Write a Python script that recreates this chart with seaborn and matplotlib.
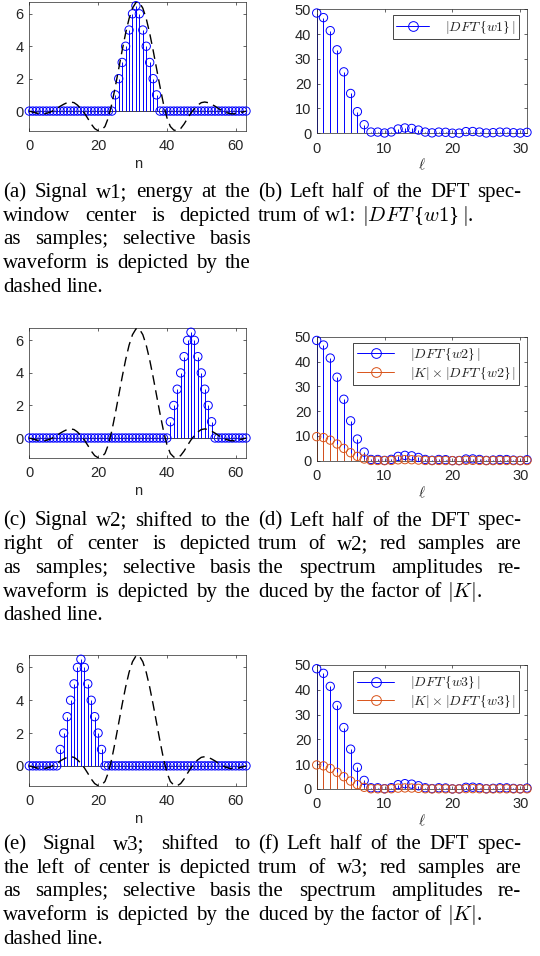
import numpy as np
import matplotlib
matplotlib.use("Agg")
import matplotlib.pyplot as plt
from matplotlib.lines import Line2D
from matplotlib.legend_handler import HandlerLine2D
import seaborn as sns

sns.set_style("ticks")
plt.rcParams["font.family"] = ["Liberation Serif", "DejaVu Serif"]
plt.rcParams["mathtext.fontset"] = "cm"

BLUE = "#0000FF"
RED = "#D95319"
DARK = "#262626"
SANS = ["Liberation Sans", "DejaVu Sans"]

# ---------------- data ----------------
n = list(range(64))
pulse = [1, 2, 3, 4, 5, 6, 6.5, 6, 5, 4, 3, 2, 1]
w1 = [0] * 25 + pulse + [0] * 26
w2 = [0] * 41 + pulse + [0] * 10
w3 = [0] * 9 + pulse + [0] * 42

# dashed selective basis waveform
basis_n = list(range(32)) + [31.5] + list(range(32, 64))
basis_v = [0.00, -0.06, -0.12, -0.16, -0.17, -0.14, -0.07, 0.03, 0.16, 0.30,
           0.42, 0.52, 0.56, 0.52, 0.37, 0.15, -0.12, -0.45, -0.80, -1.08,
           -1.21, -1.17, -0.95, -0.40, 0.45, 1.50, 2.62, 3.75, 4.80, 5.70,
           6.35, 6.70,
           6.75,
           6.70, 6.35, 5.70, 4.80, 3.75, 2.62, 1.50, 0.45, -0.40, -0.95,
           -1.17, -1.21, -1.08, -0.80, -0.45, -0.12, 0.15, 0.37, 0.52, 0.56,
           0.52, 0.42, 0.30, 0.16, 0.03, -0.07, -0.14, -0.17, -0.16, -0.12,
           -0.06, 0.00]

ell = list(range(32))
dft_mag = [48.5, 46.64, 41.39, 33.67, 24.78, 16.07, 8.73, 3.47, 0.5, 0.49,
           0.12, 0.54, 1.74, 2.15, 1.96, 1.31, 0.5, 0.17, 0.49, 0.41,
           0.05, 0.08, 0.68, 0.72, 0.5, 0.12, 0.26, 0.48, 0.46, 0.23,
           0.10, 0.39]
dft_red = [9.7, 9.33, 8.28, 6.73, 4.96, 3.21, 1.75, 0.69, 0.1, 0.1,
           0.02, 0.11, 0.35, 0.43, 0.39, 0.26, 0.1, 0.03, 0.1, 0.08,
           0.01, 0.02, 0.14, 0.14, 0.1, 0.02, 0.05, 0.1, 0.09, 0.05,
           0.02, 0.08]

W, H = 540, 956
fig = plt.figure(figsize=(W / 100, H / 100), dpi=100)


def px_axes(x0, y0, x1, y1):
    return fig.add_axes([x0 / W, 1 - y1 / H, (x1 - x0) / W, (y1 - y0) / H])


def dft_label(tag):
    # upright text braces between italic math parts, as LaTeX prints \{ \}
    return r"$|DFT\,${$" + tag + r"$}$\,|$"


def style(ax):
    for s in ax.spines.values():
        s.set_linewidth(0.5)
        s.set_color(DARK)
    ax.tick_params(direction="in", top=True, right=True, length=2.5,
                   width=0.5, colors=DARK, labelsize=10.5)
    ax.tick_params(axis="x", pad=6)
    ax.tick_params(axis="y", pad=4)
    for lab in ax.get_xticklabels() + ax.get_yticklabels():
        lab.set_family(SANS)


def stems(ax, x, y, color):
    ax.vlines(x, 0, y, color=color, lw=0.7, zorder=2)
    sns.scatterplot(x=x, y=y, ax=ax, s=36, marker="o", zorder=3,
                    clip_on=False)
    coll = ax.collections[-1]
    coll.set_facecolor("none")
    coll.set_edgecolor(color)
    coll.set_linewidth(0.7)


class StemHandler(HandlerLine2D):
    def get_xdata(self, legend, xdescent, ydescent, width, height, fontsize):
        xd = np.array([-xdescent, -xdescent + width])
        return xd, np.array([-xdescent + width])


def signal_panel(ax, w):
    ax.axhline(0, color=DARK, lw=0.6, zorder=1)
    stems(ax, n, w, BLUE)
    sns.lineplot(x=basis_n, y=basis_v, ax=ax, color="k", lw=1.0,
                 linestyle=(0, (7, 4)), estimator=None, zorder=4)
    ax.set_xlim(0, 63)
    ax.set_ylim(-1.21, 6.76)
    ax.set_xticks([0, 20, 40, 60])
    ax.set_yticks([0, 2, 4, 6])
    ax.set_xlabel("n", fontsize=10.5, color=DARK, labelpad=3, family=SANS)
    ax.set_ylabel("")
    style(ax)


def dft_panel(ax, tag, red=False):
    ax.axhline(0, color=DARK, lw=0.6, zorder=1)
    stems(ax, ell, dft_mag, BLUE)
    handles = [Line2D([], [], color=BLUE, lw=0.7, marker="o", mfc="none",
                      mec=BLUE, ms=7, mew=0.7)]
    labels = [dft_label(tag)]
    if red:
        stems(ax, ell, dft_red, RED)
        handles.append(Line2D([], [], color=RED, lw=0.7, marker="o",
                              mfc="none", mec=RED, ms=7, mew=0.7))
        labels.append(r"$|K|\times$" + dft_label(tag))
    ax.set_xlim(0, 31)
    ax.set_ylim(0, 50)
    ax.set_xticks([0, 10, 20, 30])
    ax.set_yticks([0, 10, 20, 30, 40, 50])
    ax.set_xlabel(r"$\ell$", fontsize=11, color=DARK, labelpad=1)
    ax.set_ylabel("")
    style(ax)
    leg = ax.legend(handles, labels, loc="upper right",
                    bbox_to_anchor=(1 - 8 / 210, 1 - 6 / 124),
                    borderaxespad=0, fontsize=10,
                    handlelength=2.7 if red else 2.4,
                    handletextpad=1.1, labelspacing=0.1, borderpad=0.25,
                    fancybox=False, framealpha=1,
                    handler_map={Line2D: StemHandler()})
    leg.get_frame().set_edgecolor(DARK)
    leg.get_frame().set_linewidth(0.6)


ax_a = px_axes(29.3, 1.5, 246, 130.7)
signal_panel(ax_a, w1)
ax_b = px_axes(316.7, 9.3, 527, 133.3)
dft_panel(ax_b, "w1")
ax_c = px_axes(29.3, 328, 246, 457.7)
signal_panel(ax_c, w2)
ax_d = px_axes(316.7, 336.7, 527, 460.7)
dft_panel(ax_d, "w2", red=True)
ax_e = px_axes(29.3, 655, 246, 785.7)
signal_panel(ax_e, w3)
ax_f = px_axes(316.7, 665, 527, 789)
dft_panel(ax_f, "w3", red=True)

# ---------------- captions (justified like the LaTeX source) ----------------
renderer = fig.canvas.get_renderer()
CAP_SIZE = 15


def caption(lines, x0, x1, y_first, step=23.7):
    space = CAP_SIZE * 100 / 72 * 0.25
    for i, line in enumerate(lines):
        words = line.split(" ")
        y = 1 - (y_first + i * step) / H
        texts = [fig.text(0, y, wd, fontsize=CAP_SIZE, va="baseline",
                          color="black") for wd in words]
        widths = [t.get_window_extent(renderer).width for t in texts]
        last = i == len(lines) - 1
        if last or len(words) == 1:
            gap = space
        else:
            gap = ((x1 - x0) - sum(widths)) / (len(words) - 1)
            gap = max(gap, 0.8 * space)
        x = x0
        for t, wd in zip(texts, widths):
            t.set_x(x / W)
            x += wd + gap


left_tail = ["as samples; selective basis",
             "waveform is depicted by the",
             "dashed line."]
caption(["(a) Signal w1; energy at the", "window center is depicted"] + left_tail,
        3.3, 250.7, 197)
caption(["(b) Left half of the DFT spec-",
         "trum of w1: " + dft_label("w1") + "."],
        258, 521, 197)
caption(["(c) Signal w2; shifted to the", "right of center is depicted"] + left_tail,
        3.3, 250.7, 525.5)
caption(["(d) Left half of the DFT spec-", "trum of w2; red samples are",
         "the spectrum amplitudes re-", r"duced by the factor of $|K|$."],
        258, 521, 525.5)
caption(["(e) Signal w3; shifted to", "the left of center is depicted"] + left_tail,
        3.3, 250.7, 849)
caption(["(f) Left half of the DFT spec-", "trum of w3; red samples are",
         "the spectrum amplitudes re-", r"duced by the factor of $|K|$."],
        258, 521, 849)

fig.savefig("out.png", dpi=100)
